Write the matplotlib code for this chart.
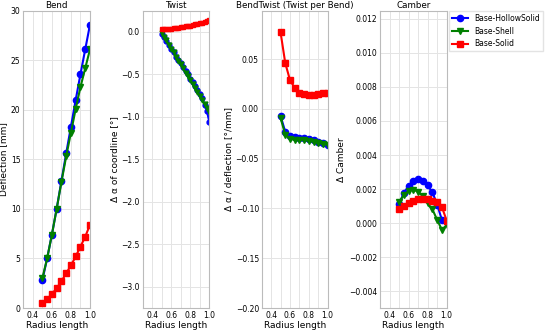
import numpy as np
import matplotlib.pyplot as plt
from matplotlib.ticker import MultipleLocator

# radius positions
r11 = [0.5, 0.55, 0.6, 0.65, 0.7, 0.75, 0.8, 0.85, 0.9, 0.95, 1.0]
r21 = [0.5, 0.525, 0.55, 0.575, 0.6, 0.625, 0.65, 0.675, 0.7, 0.725, 0.75,
       0.775, 0.8, 0.825, 0.85, 0.875, 0.9, 0.925, 0.95, 0.975, 1.0]

series = ['Base-HollowSolid', 'Base-Shell', 'Base-Solid']

# Bend: deflection [mm]
bend_hollow = [2.8, 5.0, 7.4, 10.0, 12.8, 15.6, 18.3, 21.0, 23.6, 26.1, 28.6]
bend_shell = [3.0, 5.0, 7.4, 10.0, 12.7, 15.3, 17.7, 20.1, 22.3, 24.2, 26.1]
bend_solid = [0.5, 0.9, 1.4, 2.0, 2.7, 3.5, 4.3, 5.2, 6.2, 7.2, 8.4]

# Twist: delta alpha of coordline [deg]
twist_hollow = [-0.02, -0.06, -0.11, -0.15, -0.20, -0.24, -0.29, -0.33, -0.37, -0.41, -0.46,
                -0.50, -0.55, -0.59, -0.64, -0.68, -0.73, -0.78, -0.86, -0.93, -1.06]
twist_shell = [-0.01, -0.06, -0.10, -0.15, -0.20, -0.24, -0.29, -0.34, -0.38, -0.43, -0.48,
               -0.52, -0.57, -0.61, -0.66, -0.71, -0.75, -0.80, -0.85, -0.89, -0.94]
twist_solid = [0.04, 0.04, 0.04, 0.04, 0.04, 0.045, 0.05, 0.05, 0.055, 0.06, 0.065,
               0.07, 0.075, 0.08, 0.09, 0.095, 0.10, 0.11, 0.12, 0.13, 0.14]

# BendTwist: twist per bend [deg/mm]
bt_hollow = [-0.007, -0.023, -0.027, -0.028, -0.029, -0.029, -0.030, -0.031, -0.033, -0.034, -0.036]
bt_shell = [-0.009, -0.026, -0.030, -0.031, -0.031, -0.031, -0.032, -0.033, -0.034, -0.035, -0.036]
bt_solid = [0.077, 0.046, 0.029, 0.021, 0.016, 0.015, 0.014, 0.014, 0.015, 0.016, 0.016]

# Camber
camber_hollow = [0.00113, 0.00176, 0.00221, 0.00248, 0.00258, 0.00248, 0.00222, 0.00182, 0.00110, 0.00019, 0.00010]
camber_shell = [0.00127, 0.00165, 0.00190, 0.00198, 0.00185, 0.00159, 0.00117, 0.00082, 0.00020, -0.00039, -0.00010]
camber_solid = [0.00084, 0.00104, 0.00121, 0.00133, 0.00141, 0.00145, 0.00141, 0.00131, 0.00123, 0.00094, 0.00016]

plt.rcParams['font.family'] = 'DejaVu Sans'

fig = plt.figure(figsize=(5.5, 3.3), dpi=100)
boxes = [[23.3, 66.7], [142.7, 66.6], [261.7, 66.0], [380.0, 66.7]]
axes = [fig.add_axes([l / 550, 22 / 330, w / 550, 297.3 / 330]) for l, w in boxes]

styles = [dict(color='blue', marker='o'), dict(color='green', marker='v'),
          dict(color='red', marker='s')]

panels = [
    ('Bend', 'Deflection [mm]', r11, [bend_hollow, bend_shell, bend_solid], (0, 30)),
    ('Twist', 'Δ α of coordline [°]', r21, [twist_hollow, twist_shell, twist_solid], (-3.25, 0.25)),
    ('BendTwist (Twist per Bend)', 'Δ α / deflection [°/mm]', r11, [bt_hollow, bt_shell, bt_solid], (-0.2, 0.0987)),
    ('Camber', 'Δ Camber', r11, [camber_hollow, camber_shell, camber_solid], (-0.00497, 0.01247)),
]

for ax, (title, ylab, xs, ys, ylim) in zip(axes, panels):
    for y, st, name in zip(ys, styles, series):
        ms = 3.5 if len(xs) > 11 else 4.5
        ax.plot(xs, y, label=name, lw=1.5, ms=ms, **st)
    ax.set_xlim(0.3, 1.0)
    ax.set_ylim(*ylim)
    ax.set_xticks([0.4, 0.6, 0.8, 1.0])
    ax.xaxis.set_minor_locator(MultipleLocator(0.1))
    ax.grid(True, which='both', axis='x', color='#e4e4e4', lw=0.7)
    ax.grid(True, which='major', axis='y', color='#e4e4e4', lw=0.7)
    ax.set_axisbelow(True)
    for s in ax.spines.values():
        s.set_color('#bbbbbb')
        s.set_linewidth(0.8)
    ax.tick_params(which='both', length=0, labelsize=5.5, pad=2)
    ax.set_title(title, fontsize=6.3, pad=2)
    ax.set_xlabel('Radius length', fontsize=6.5, labelpad=1)
    ax.set_ylabel(ylab, fontsize=6.5, labelpad=2)

axes[1].set_yticks([0.0, -0.5, -1.0, -1.5, -2.0, -2.5, -3.0])
axes[2].set_yticks([0.05, 0.0, -0.05, -0.10, -0.15, -0.20])
axes[3].set_yticks(np.arange(-0.004, 0.0121, 0.002))

axes[3].legend(loc='upper left', bbox_to_anchor=(1.04, 1.0), fontsize=5.5,
               frameon=True, edgecolor='#dddddd', fancybox=False, borderaxespad=0)

fig.savefig('out.png', dpi=100)
